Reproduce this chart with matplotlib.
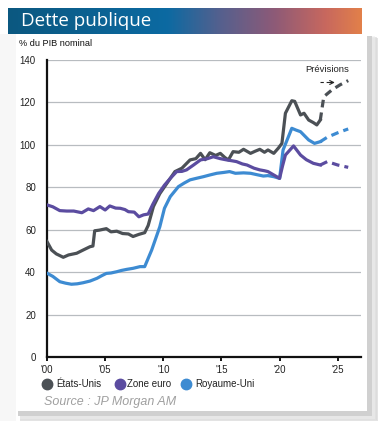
import numpy as np
import matplotlib
matplotlib.use("Agg")
import matplotlib.pyplot as plt
from matplotlib.colors import LinearSegmentedColormap
from matplotlib.patches import Rectangle
from matplotlib.lines import Line2D

plt.rcParams['font.family'] = ['Liberation Sans', 'DejaVu Sans']

# ---------------- data ----------------
us_years = [2000.0, 2000.4, 2000.8, 2001.4, 2001.85, 2002.55, 2003.1, 2003.7, 2003.95, 2004.1,
            2004.5, 2005.1, 2005.5, 2006.0, 2006.5, 2007.0, 2007.4, 2007.9, 2008.4, 2008.7,
            2009.15, 2009.7, 2010.2, 2010.6, 2011.0, 2011.6, 2012.3, 2012.8, 2013.2, 2013.6,
            2014.0, 2014.5, 2014.9, 2015.3, 2015.6, 2016.0, 2016.5, 2016.9, 2017.5, 2017.9,
            2018.3, 2018.7, 2019.0, 2019.5, 2019.9, 2020.2, 2020.5, 2021.05, 2021.3, 2021.8,
            2022.1, 2022.5, 2022.9, 2023.2, 2023.5]
us_vals = [54.4, 50.4, 48.6, 47.0, 48.1, 48.9, 50.4, 52.0, 52.3, 59.5,
           59.8, 60.5, 59.0, 59.3, 58.2, 58.0, 56.8, 57.8, 58.6, 62.0,
           70.9, 77.0, 81.0, 84.2, 87.4, 89.0, 92.9, 93.5, 96.0, 93.0,
           96.3, 95.0, 96.0, 94.0, 92.9, 96.8, 96.5, 97.9, 96.0, 97.0,
           97.9, 96.5, 97.6, 96.0, 98.5, 100.7, 114.9, 120.8, 120.5, 114.1,
           114.9, 111.7, 110.5, 109.4, 111.7]
us_fc_years = [2023.5, 2023.8, 2024.5, 2025.2, 2025.9]
us_fc_vals = [111.7, 122.7, 125.9, 128.3, 130.3]

ez_years = [2000.0, 2000.5, 2001.1, 2001.7, 2002.3, 2003.0, 2003.55, 2004.0, 2004.55, 2005.0,
            2005.4, 2005.9, 2006.3, 2006.7, 2007.0, 2007.5, 2007.9, 2008.3, 2008.7, 2009.1,
            2009.6, 2010.1, 2010.6, 2011.15, 2011.6, 2012.0, 2012.6, 2013.2, 2013.8, 2014.3,
            2014.9, 2015.45, 2015.9, 2016.3, 2016.8, 2017.2, 2017.8, 2018.3, 2018.7, 2019.0,
            2019.5, 2020.0, 2020.25, 2020.5, 2021.2, 2021.8, 2022.3, 2022.9, 2023.5]
ez_vals = [71.7, 70.8, 69.0, 68.8, 68.8, 68.0, 69.8, 69.0, 70.9, 69.3,
           71.2, 70.2, 70.1, 69.5, 68.5, 68.3, 66.1, 67.0, 67.4, 72.0,
           77.1, 81.0, 84.2, 87.4, 87.5, 88.2, 90.5, 92.9, 93.5, 94.4,
           93.5, 92.9, 92.5, 92.1, 91.0, 90.5, 89.0, 88.2, 87.8, 87.4,
           85.8, 84.2, 90.0, 95.2, 99.5, 95.2, 93.0, 91.3, 90.5]
ez_fc_years = [2023.5, 2024.1, 2025.0, 2025.9]
ez_fc_vals = [90.5, 92.1, 90.5, 89.4]

uk_years = [2000.0, 2000.5, 2001.1, 2001.6, 2002.1, 2002.6, 2003.1, 2003.7, 2004.3, 2004.7,
            2005.1, 2005.5, 2006.0, 2006.4, 2006.85, 2007.4, 2008.0, 2008.4, 2009.0, 2009.7,
            2010.1, 2010.6, 2011.3, 2011.8, 2012.3, 2012.9, 2013.45, 2014.0, 2014.6, 2015.2,
            2015.7, 2016.2, 2016.9, 2017.5, 2018.0, 2018.6, 2019.0, 2019.5, 2020.0, 2020.3,
            2021.05, 2021.4, 2021.8, 2022.5, 2023.0, 2023.5]
uk_vals = [39.5, 38.0, 35.5, 34.8, 34.3, 34.5, 35.0, 35.8, 37.1, 38.3,
           39.4, 39.6, 40.2, 40.8, 41.3, 41.8, 42.6, 42.6, 50.4, 61.4,
           70.1, 75.6, 80.3, 82.0, 83.5, 84.3, 85.0, 85.8, 86.6, 87.0,
           87.4, 86.6, 86.8, 86.6, 86.0, 85.3, 85.5, 85.0, 84.2, 97.6,
           107.8, 107.0, 106.2, 102.3, 100.7, 101.5]
uk_fc_years = [2023.5, 2024.1, 2025.0, 2025.9]
uk_fc_vals = [101.5, 103.6, 105.7, 107.5]

series_names = ["États-Unis", "Zone euro", "Royaume-Uni"]
x_ticks = [2000, 2005, 2010, 2015, 2020, 2025]
x_labels = ["'00", "'05", "'10", "'15", "'20", "'25"]
y_ticks = [0, 20, 40, 60, 80, 100, 120, 140]

# ---------------- style ----------------
W, H = 378, 421
c_us, c_ez, c_uk = "#4b5055", "#5b4ca0", "#3d8bd2"

fig = plt.figure(figsize=(W / 100, H / 100), dpi=100)
fig.patch.set_facecolor("white")

def fx(px):
    return px / W

def fy(py):
    return 1 - py / H

def rect(x0, y0, x1, y1, **kw):
    fig.add_artist(Rectangle((fx(x0), fy(y1)), fx(x1) - fx(x0), fy(y0) - fy(y1),
                             transform=fig.transFigure, edgecolor="none", **kw))

# faint background left of card
rect(0, 34, 16, 421, facecolor="#f7f7f7", zorder=0)
# soft shadow (right and bottom)
for i in range(8):
    g = 0.80 + 0.02 * i
    rect(20, 38 - i * 0.3, 378 - i * 0.5, 421 - i * 0.3, facecolor=(g, g, g), alpha=0.35, zorder=0)
rect(18, 36, 372, 416, facecolor="#d0d0d0", zorder=0.5)
# card
rect(16, 34, 367, 411, facecolor="white", zorder=1)

# banner gradient
bax = fig.add_axes([fx(8), fy(34), fx(354), fy(8) - fy(34)], zorder=2)
cmap = LinearSegmentedColormap.from_list("ban", [
    (0.0, "#0b5880"), (0.45, "#0c6aa2"), (0.6, "#55608e"),
    (0.75, "#8c5a78"), (0.9, "#c8685e"), (1.0, "#e2804a")])
bax.imshow(np.linspace(0, 1, 256)[None, :], aspect="auto", cmap=cmap, extent=[0, 1, 0, 1])
bax.set_axis_off()
fig.text(fx(21), fy(21), "Dette publique", color="white", fontsize=13.5,
         family=["Open Sans", "DejaVu Sans"], va="center", ha="left", zorder=3)

fig.text(fx(19), fy(43), "% du PIB nominal", fontsize=6.6, color="#111111",
         va="center", ha="left", zorder=3)

# main axes
ax = fig.add_axes([fx(47), fy(357), fx(361) - fx(47), fy(60) - fy(357)], zorder=2)
ax.set_facecolor("none")
lw = 2.3
dash = (0, (2.4, 1.6))
ax.plot(us_years, us_vals, color=c_us, lw=lw, solid_joinstyle="round", zorder=3)
ax.plot(ez_years, ez_vals, color=c_ez, lw=lw, solid_joinstyle="round", zorder=4)
ax.plot(uk_years, uk_vals, color=c_uk, lw=lw, solid_joinstyle="round", zorder=3)
ax.plot(us_fc_years, us_fc_vals, color=c_us, lw=lw, ls=dash, zorder=3)
ax.plot(ez_fc_years, ez_fc_vals, color=c_ez, lw=lw, ls=dash, zorder=4)
ax.plot(uk_fc_years, uk_fc_vals, color=c_uk, lw=lw, ls=dash, zorder=3)

ax.set_xlim(2000, 2027)
ax.set_ylim(0, 140)
ax.set_yticks(y_ticks)
ax.set_xticks(x_ticks)
ax.set_xticklabels(x_labels)
ax.grid(axis="y", color="#b8bcc0", lw=0.9)
ax.set_axisbelow(True)
for s in ["top", "right"]:
    ax.spines[s].set_visible(False)
ax.spines["left"].set_linewidth(1.6)
ax.spines["bottom"].set_linewidth(1.6)
ax.spines["left"].set_color("#111111")
ax.spines["bottom"].set_color("#111111")
ax.tick_params(axis="y", length=0, pad=8, labelsize=7, labelcolor="#222222")
ax.tick_params(axis="x", length=3, width=1.3, pad=2.5, labelsize=7, labelcolor="#222222")

# forecast annotation
ax.text(2024.05, 135.3, "Prévisions", fontsize=6.8, ha="center", va="center", color="#222222")
ax.plot([2023.45, 2024.45], [129.4, 129.4], color="#222222", lw=0.8, ls=(0, (3, 2.5)), zorder=5)
ax.annotate("", xy=(2024.75, 129.4), xytext=(2024.3, 129.4),
            arrowprops=dict(arrowstyle="->", lw=0.8, color="#222222",
                            shrinkA=0, shrinkB=0, mutation_scale=7), zorder=5)

# legend
items = [(47, series_names[0], c_us, 56), (120, series_names[1], c_ez, 127), (186, series_names[2], c_uk, 195)]
for mx, name, col, tx in items:
    fig.add_artist(Line2D([fx(mx)], [fy(384)], marker="o", markersize=7.5, color=col,
                          transform=fig.transFigure, zorder=3))
    fig.text(fx(tx), fy(384), name, fontsize=7, va="center", ha="left", color="#222222", zorder=3)

fig.text(fx(44), fy(402), "Source : JP Morgan AM", fontsize=9, style="italic",
         color="#a0a0a0", va="center", ha="left", zorder=3)

fig.savefig("out.png", dpi=100, facecolor=fig.get_facecolor())
